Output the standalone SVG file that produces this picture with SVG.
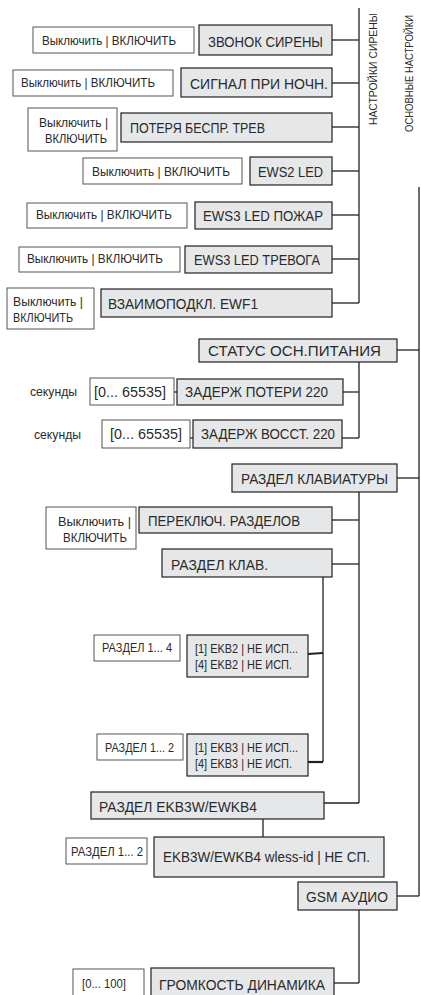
<svg xmlns="http://www.w3.org/2000/svg" width="421" height="995" viewBox="0 0 421 995">
<style>
.w{fill:#fff;stroke:#555;stroke-width:1}
.g{fill:#e6e7e8;stroke:#231f20;stroke-width:1.2}
text{font-family:"Liberation Sans",Arial,sans-serif;fill:#2a2a2a}
.s{font-size:12px}
.b{font-size:14px}
.r{font-size:11px}
.c line{stroke:#231f20;stroke-width:1.3;fill:none}
.c .t{stroke-width:2.2}
</style>
<rect width="421" height="995" fill="#fff"/>

<g class="c" id="connectors">
<line x1="359" y1="8" x2="359" y2="303"/>
<line x1="332" y1="40" x2="359" y2="40"/>
<line x1="332" y1="83" x2="359" y2="83"/>
<line x1="332" y1="127" x2="359" y2="127"/>
<line x1="332" y1="171" x2="359" y2="171"/>
<line x1="332" y1="215" x2="359" y2="215"/>
<line x1="332" y1="259" x2="359" y2="259"/>
<line x1="332" y1="303" x2="359" y2="303"/>
<line x1="419" y1="187" x2="419" y2="896"/>
<line x1="397" y1="350" x2="419" y2="350"/>
<line x1="397" y1="478" x2="419" y2="478"/>
<line x1="397" y1="896" x2="419" y2="896"/>
<line x1="359" y1="362" x2="359" y2="438"/>
<line x1="343" y1="392" x2="359" y2="392"/>
<line x1="342" y1="438" x2="359" y2="438"/>
<line x1="174" y1="392" x2="177" y2="392"/>
<line x1="190" y1="438" x2="193" y2="438"/>
<line x1="359" y1="492" x2="359" y2="803"/>
<line x1="332" y1="520" x2="359" y2="520"/>
<line x1="332" y1="564" x2="359" y2="564"/>
<line x1="324" y1="803" x2="359" y2="803"/>
<line x1="323" y1="577" x2="323" y2="762"/>
<line class="t" x1="308" y1="654" x2="323" y2="653"/>
<line class="t" x1="308" y1="762" x2="323" y2="762"/>
<line x1="263" y1="819" x2="263" y2="837"/>
<line x1="359" y1="910" x2="359" y2="983"/>
<line x1="334" y1="983" x2="359" y2="983"/>
</g>

<g id="lbl-sirena"><text class="r" transform="translate(377,125) rotate(-90)" textLength="112" lengthAdjust="spacingAndGlyphs">НАСТРОЙКИ СИРЕНЫ</text></g>
<g id="lbl-osnovnye"><text class="r" transform="translate(413,132) rotate(-90)" textLength="117" lengthAdjust="spacingAndGlyphs">ОСНОВНЫЕ НАСТРОЙКИ</text></g>

<g id="n1"><rect class="g" x="199" y="25" width="133" height="30"/><text class="b" x="208" y="47" textLength="115" lengthAdjust="spacingAndGlyphs">ЗВОНОК СИРЕНЫ</text></g>
<g id="v1"><rect class="w" x="33" y="27" width="161" height="26"/><text class="s" x="42" y="45" textLength="134" lengthAdjust="spacingAndGlyphs">Выключить | ВКЛЮЧИТЬ</text></g>

<g id="n2"><rect class="g" x="181" y="68" width="151" height="29"/><text class="b" x="190" y="89" textLength="138" lengthAdjust="spacingAndGlyphs">СИГНАЛ ПРИ НОЧН.</text></g>
<g id="v2"><rect class="w" x="13" y="70" width="160" height="26"/><text class="s" x="21" y="87" textLength="134" lengthAdjust="spacingAndGlyphs">Выключить | ВКЛЮЧИТЬ</text></g>

<g id="n3"><rect class="g" x="121" y="113" width="211" height="29"/><text class="b" x="130" y="133" textLength="135" lengthAdjust="spacingAndGlyphs">ПОТЕРЯ БЕСПР. ТРЕВ</text></g>
<g id="v3"><rect class="w" x="28" y="108" width="89" height="43"/><text class="s" x="39" y="127" textLength="69" lengthAdjust="spacingAndGlyphs">Выключить |</text><text class="s" x="45" y="143" textLength="62" lengthAdjust="spacingAndGlyphs">ВКЛЮЧИТЬ</text></g>

<g id="n4"><rect class="g" x="250" y="157" width="82" height="28"/><text class="b" x="258" y="177" textLength="65" lengthAdjust="spacingAndGlyphs">EWS2 LED</text></g>
<g id="v4"><rect class="w" x="83" y="158" width="159" height="26"/><text class="s" x="92" y="176" textLength="138" lengthAdjust="spacingAndGlyphs">Выключить | ВКЛЮЧИТЬ</text></g>

<g id="n5"><rect class="g" x="195" y="202" width="137" height="27"/><text class="b" x="203" y="221" textLength="120" lengthAdjust="spacingAndGlyphs">EWS3 LED ПОЖАР</text></g>
<g id="v5"><rect class="w" x="27" y="203" width="160" height="25"/><text class="s" x="36" y="219" textLength="136" lengthAdjust="spacingAndGlyphs">Выключить | ВКЛЮЧИТЬ</text></g>

<g id="n6"><rect class="g" x="185" y="246" width="147" height="27"/><text class="b" x="194" y="265" textLength="126" lengthAdjust="spacingAndGlyphs">EWS3 LED ТРЕВОГА</text></g>
<g id="v6"><rect class="w" x="19" y="247" width="161" height="25"/><text class="s" x="27" y="263" textLength="136" lengthAdjust="spacingAndGlyphs">Выключить | ВКЛЮЧИТЬ</text></g>

<g id="n7"><rect class="g" x="101" y="289" width="231" height="28"/><text class="b" x="108" y="309" textLength="150" lengthAdjust="spacingAndGlyphs">ВЗАИМОПОДКЛ. EWF1</text></g>
<g id="v7"><rect class="w" x="7" y="288" width="87" height="41"/><text class="s" x="13" y="306" textLength="70" lengthAdjust="spacingAndGlyphs">Выключить |</text><text class="s" x="13" y="322" textLength="60" lengthAdjust="spacingAndGlyphs">ВКЛЮЧИТЬ</text></g>

<g id="n8"><rect class="g" x="199" y="339" width="198" height="23"/><text class="b" x="208" y="356" textLength="173" lengthAdjust="spacingAndGlyphs">СТАТУС ОСН.ПИТАНИЯ</text></g>

<g id="n9"><rect class="g" x="177" y="379" width="166" height="26"/><text class="b" x="185" y="397" textLength="143" lengthAdjust="spacingAndGlyphs">ЗАДЕРЖ ПОТЕРИ 220</text></g>
<g id="v9"><rect class="w" x="90" y="378" width="84" height="27"/><text class="b" x="94" y="397" textLength="72" lengthAdjust="spacingAndGlyphs">[0... 65535]</text></g>
<g id="u9"><text class="s" x="30" y="396" textLength="47" lengthAdjust="spacingAndGlyphs">секунды</text></g>

<g id="n10"><rect class="g" x="193" y="420" width="149" height="28"/><text class="b" x="201" y="439" textLength="134" lengthAdjust="spacingAndGlyphs">ЗАДЕРЖ ВОССТ. 220</text></g>
<g id="v10"><rect class="w" x="102" y="420" width="88" height="28"/><text class="b" x="110" y="439" textLength="72" lengthAdjust="spacingAndGlyphs">[0... 65535]</text></g>
<g id="u10"><text class="s" x="34" y="439" textLength="47" lengthAdjust="spacingAndGlyphs">секунды</text></g>

<g id="n11"><rect class="g" x="232" y="464" width="165" height="28"/><text class="b" x="241" y="484" textLength="147" lengthAdjust="spacingAndGlyphs">РАЗДЕЛ КЛАВИАТУРЫ</text></g>

<g id="n12"><rect class="g" x="139" y="507" width="193" height="26"/><text class="b" x="148" y="526" textLength="152" lengthAdjust="spacingAndGlyphs">ПЕРЕКЛЮЧ. РАЗДЕЛОВ</text></g>
<g id="v12"><rect class="w" x="46" y="507" width="90" height="42"/><text class="s" x="58" y="526" textLength="73" lengthAdjust="spacingAndGlyphs">Выключить |</text><text class="s" x="63" y="542" textLength="64" lengthAdjust="spacingAndGlyphs">ВКЛЮЧИТЬ</text></g>

<g id="n13"><rect class="g" x="162" y="549" width="170" height="28"/><text class="b" x="171" y="570" textLength="97" lengthAdjust="spacingAndGlyphs">РАЗДЕЛ КЛАВ.</text></g>

<g id="n14"><rect class="g" x="187" y="635" width="121" height="42"/><text class="s" x="195" y="653" textLength="103" lengthAdjust="spacingAndGlyphs">[1] EKB2 | НЕ ИСП...</text><text class="s" x="195" y="669" textLength="97" lengthAdjust="spacingAndGlyphs">[4] EKB2 | НЕ ИСП.</text></g>
<g id="v14"><rect class="w" x="94" y="635" width="86" height="26"/><text class="s" x="102" y="652" textLength="70" lengthAdjust="spacingAndGlyphs">РАЗДЕЛ 1... 4</text></g>

<g id="n15"><rect class="g" x="187" y="734" width="121" height="42"/><text class="s" x="195" y="752" textLength="103" lengthAdjust="spacingAndGlyphs">[1] EKB3 | НЕ ИСП...</text><text class="s" x="195" y="768" textLength="97" lengthAdjust="spacingAndGlyphs">[4] EKB3 | НЕ ИСП.</text></g>
<g id="v15"><rect class="w" x="97" y="734" width="86" height="26"/><text class="s" x="105" y="752" textLength="69" lengthAdjust="spacingAndGlyphs">РАЗДЕЛ 1... 2</text></g>

<g id="n16"><rect class="g" x="91" y="792" width="233" height="27"/><text class="b" x="99" y="812" textLength="158" lengthAdjust="spacingAndGlyphs">РАЗДЕЛ EKB3W/EWKB4</text></g>

<g id="n17"><rect class="g" x="154" y="837" width="230" height="40"/><text class="b" x="163" y="862" textLength="207" lengthAdjust="spacingAndGlyphs">EKB3W/EWKB4 wless-id | НЕ СП.</text></g>
<g id="v17"><rect class="w" x="66" y="838" width="81" height="26"/><text class="s" x="71" y="856" textLength="72" lengthAdjust="spacingAndGlyphs">РАЗДЕЛ 1... 2</text></g>

<g id="n18"><rect class="g" x="298" y="882" width="99" height="28"/><text class="b" x="306" y="902" textLength="82" lengthAdjust="spacingAndGlyphs">GSM АУДИО</text></g>

<g id="n19"><rect class="g" x="151" y="968" width="183" height="32"/><text class="b" x="159" y="990" textLength="166" lengthAdjust="spacingAndGlyphs">ГРОМКОСТЬ ДИНАМИКА</text></g>
<g id="v19"><rect class="w" x="73" y="969" width="71" height="31"/><text class="s" x="82" y="988" textLength="44" lengthAdjust="spacingAndGlyphs">[0... 100]</text></g>
</svg>
